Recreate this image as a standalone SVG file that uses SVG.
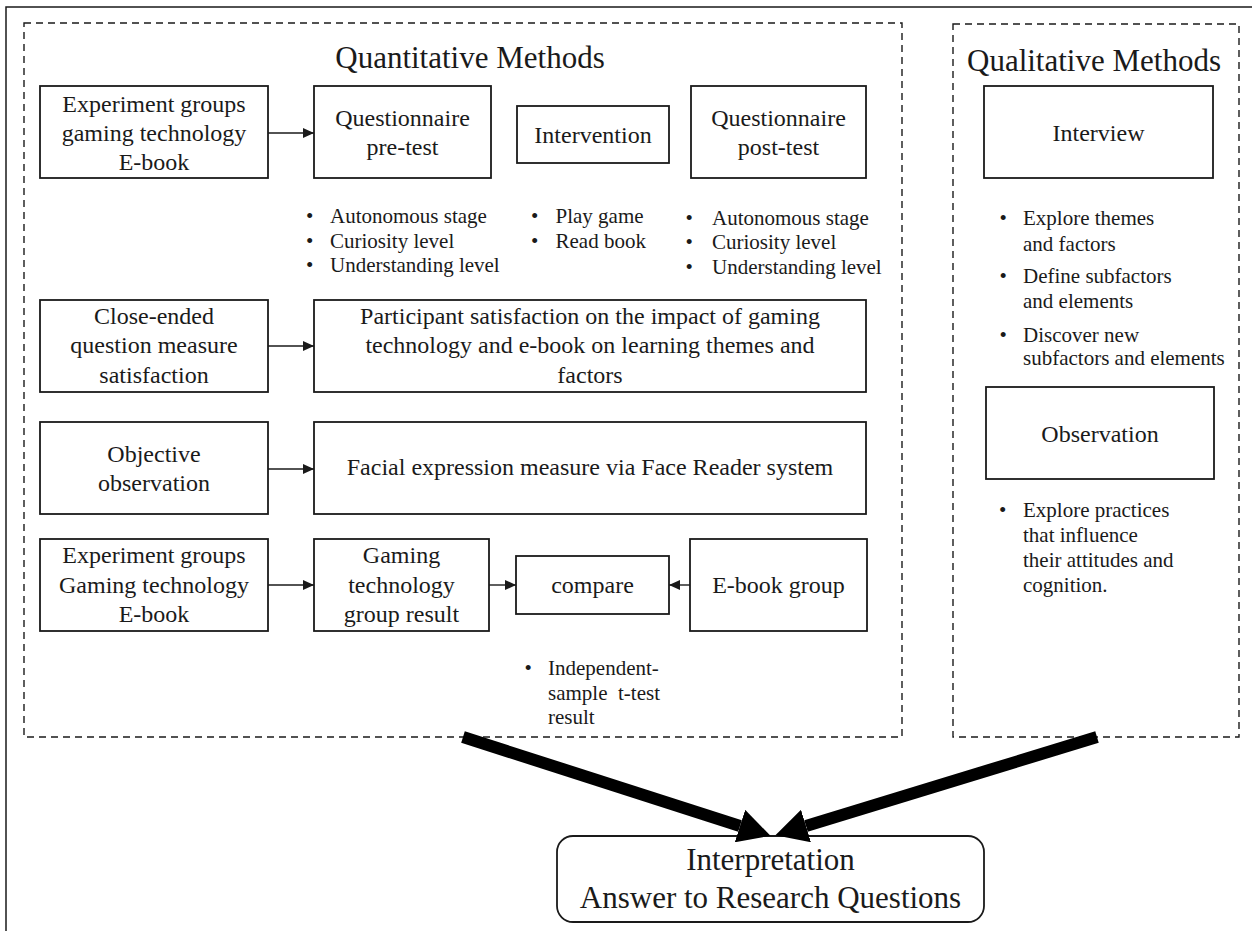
<svg xmlns="http://www.w3.org/2000/svg" width="1252" height="931" viewBox="0 0 1252 931">
  <style>
    .frame { fill: none; stroke: #1a1a1a; stroke-width: 1.5; }
    .dash { fill: none; stroke: #1a1a1a; stroke-width: 1.4; stroke-dasharray: 7 5; }
    .box { fill: #fff; stroke: #1a1a1a; stroke-width: 1.8; }
    .t { font-family: "Liberation Serif", "Times New Roman", serif; fill: #1a1a1a; }
    .title { font-size: 31px; text-anchor: middle; }
    .lbl { font-size: 24px; text-anchor: middle; }
    .bul { font-size: 21px; }
    .thin { stroke: #1a1a1a; stroke-width: 1.4; fill: none; marker-end: url(#head); }
    .thick { stroke: #000; stroke-width: 12; fill: none; marker-end: url(#bighead); }
  </style>
  <defs>
    <marker id="head" markerUnits="userSpaceOnUse" markerWidth="12" markerHeight="10" refX="11" refY="5" orient="auto">
      <path d="M0,0 L11,5 L0,10 z" fill="#1a1a1a"/>
    </marker>
    <marker id="bighead" markerUnits="userSpaceOnUse" markerWidth="32" markerHeight="34" refX="0" refY="17" orient="auto">
      <path d="M0,0 L32,17 L0,34 z" fill="#000"/>
    </marker>
  </defs>

  <rect width="1252" height="931" fill="#fff"/>
  <!-- page frame -->
  <rect class="frame" x="6" y="7" width="1262" height="940"/>

  <!-- method panels -->
  <g id="quantitative">
    <rect class="dash" x="24" y="23" width="878" height="714"/>
    <text class="t title" x="470" y="68">Quantitative Methods</text>
  </g>
  <g id="qualitative">
    <rect class="dash" x="953" y="24" width="286" height="713"/>
    <text class="t title" x="1094" y="71">Qualitative Methods</text>
  </g>

  <!-- row 1 -->
  <g id="groups1">
    <rect class="box" x="40" y="86" width="228" height="92"/>
    <text class="t lbl" x="154" y="112">Experiment groups</text>
    <text class="t lbl" x="154" y="141">gaming technology</text>
    <text class="t lbl" x="154" y="170">E-book</text>
  </g>
  <g id="pretest">
    <rect class="box" x="314" y="86" width="177" height="92"/>
    <text class="t lbl" x="402.5" y="126">Questionnaire</text>
    <text class="t lbl" x="402.5" y="155">pre-test</text>
  </g>
  <g id="intervention">
    <rect class="box" x="517" y="106" width="152" height="57"/>
    <text class="t lbl" x="593" y="143">Intervention</text>
  </g>
  <g id="posttest">
    <rect class="box" x="691" y="86" width="175" height="92"/>
    <text class="t lbl" x="778.5" y="126">Questionnaire</text>
    <text class="t lbl" x="778.5" y="155">post-test</text>
  </g>

  <g id="pretest-items" class="t bul">
    <text x="306" y="223">•</text><text x="330" y="223">Autonomous stage</text>
    <text x="306" y="248">•</text><text x="330" y="248">Curiosity level</text>
    <text x="306" y="272">•</text><text x="330" y="272">Understanding level</text>
  </g>
  <g id="intervention-items" class="t bul">
    <text x="531" y="223">•</text><text x="555.5" y="223">Play game</text>
    <text x="531" y="248">•</text><text x="555.5" y="248">Read book</text>
  </g>
  <g id="posttest-items" class="t bul">
    <text x="685.5" y="225">•</text><text x="712" y="225">Autonomous stage</text>
    <text x="685.5" y="249">•</text><text x="712" y="249">Curiosity level</text>
    <text x="685.5" y="274">•</text><text x="712" y="274">Understanding level</text>
  </g>

  <!-- row 2 -->
  <g id="closeended">
    <rect class="box" x="40" y="300" width="228" height="92"/>
    <text class="t lbl" x="154" y="324">Close-ended</text>
    <text class="t lbl" x="154" y="353">question measure</text>
    <text class="t lbl" x="154" y="383">satisfaction</text>
  </g>
  <g id="satisfaction">
    <rect class="box" x="314" y="300" width="552" height="92"/>
    <text class="t lbl" x="590" y="324">Participant satisfaction on the impact of gaming</text>
    <text class="t lbl" x="590" y="353">technology and e-book on learning themes and</text>
    <text class="t lbl" x="590" y="383">factors</text>
  </g>

  <!-- row 3 -->
  <g id="objective">
    <rect class="box" x="40" y="422" width="228" height="92"/>
    <text class="t lbl" x="154" y="461.5">Objective</text>
    <text class="t lbl" x="154" y="490.5">observation</text>
  </g>
  <g id="facereader">
    <rect class="box" x="314" y="422" width="552" height="92"/>
    <text class="t lbl" x="590" y="475">Facial expression measure via Face Reader system</text>
  </g>

  <!-- row 4 -->
  <g id="groups2">
    <rect class="box" x="40" y="539" width="228" height="92"/>
    <text class="t lbl" x="154" y="563">Experiment groups</text>
    <text class="t lbl" x="154" y="592.5">Gaming technology</text>
    <text class="t lbl" x="154" y="621.5">E-book</text>
  </g>
  <g id="gamingresult">
    <rect class="box" x="314" y="539" width="175" height="92"/>
    <text class="t lbl" x="401.5" y="563">Gaming</text>
    <text class="t lbl" x="401.5" y="592.5">technology</text>
    <text class="t lbl" x="401.5" y="621.5">group result</text>
  </g>
  <g id="compare">
    <rect class="box" x="516" y="556" width="153" height="58"/>
    <text class="t lbl" x="592.5" y="593">compare</text>
  </g>
  <g id="ebookgroup">
    <rect class="box" x="690" y="539" width="177" height="92"/>
    <text class="t lbl" x="778.5" y="593">E-book group</text>
  </g>
  <g id="ttest-items" class="t bul">
    <text x="524.5" y="675">•</text><text x="548" y="675">Independent-</text>
    <text x="548" y="700" xml:space="preserve">sample  t-test</text>
    <text x="548" y="724">result</text>
  </g>

  <!-- qualitative side -->
  <g id="interview">
    <rect class="box" x="984" y="86" width="229" height="92"/>
    <text class="t lbl" x="1098.5" y="141">Interview</text>
  </g>
  <g id="interview-items" class="t bul">
    <text x="999.5" y="225">•</text><text x="1023" y="225">Explore themes</text>
    <text x="1023" y="251">and factors</text>
    <text x="999.5" y="283">•</text><text x="1023" y="283">Define subfactors</text>
    <text x="1023" y="308">and elements</text>
    <text x="999.5" y="342">•</text><text x="1023" y="342">Discover new</text>
    <text x="1023" y="365">subfactors and elements</text>
  </g>
  <g id="observation">
    <rect class="box" x="986" y="387" width="228" height="92"/>
    <text class="t lbl" x="1100" y="442">Observation</text>
  </g>
  <g id="observation-items" class="t bul">
    <text x="999" y="517">•</text><text x="1023" y="517">Explore practices</text>
    <text x="1023" y="542">that influence</text>
    <text x="1023" y="567">their attitudes and</text>
    <text x="1023" y="592">cognition.</text>
  </g>

  <!-- result -->
  <g id="interpretation">
    <rect class="box" x="557" y="836" width="427" height="86" rx="16" ry="16"/>
    <text class="t title" x="770.5" y="870">Interpretation</text>
    <text class="t title" x="770.5" y="908">Answer to Research Questions</text>
  </g>

  <!-- connectors -->
  <g id="connectors">
    <line class="thin" x1="268" y1="133" x2="314" y2="133"/>
    <line class="thin" x1="268" y1="346" x2="314" y2="346"/>
    <line class="thin" x1="268" y1="469" x2="314" y2="469"/>
    <line class="thin" x1="268" y1="585" x2="314" y2="585"/>
    <line class="thin" x1="489" y1="585" x2="516" y2="585"/>
    <line class="thin" x1="690" y1="585" x2="669" y2="585"/>
    <line class="thick" x1="463" y1="737" x2="740" y2="826"/>
    <line class="thick" x1="1097" y1="737" x2="806" y2="826"/>
  </g>
</svg>
